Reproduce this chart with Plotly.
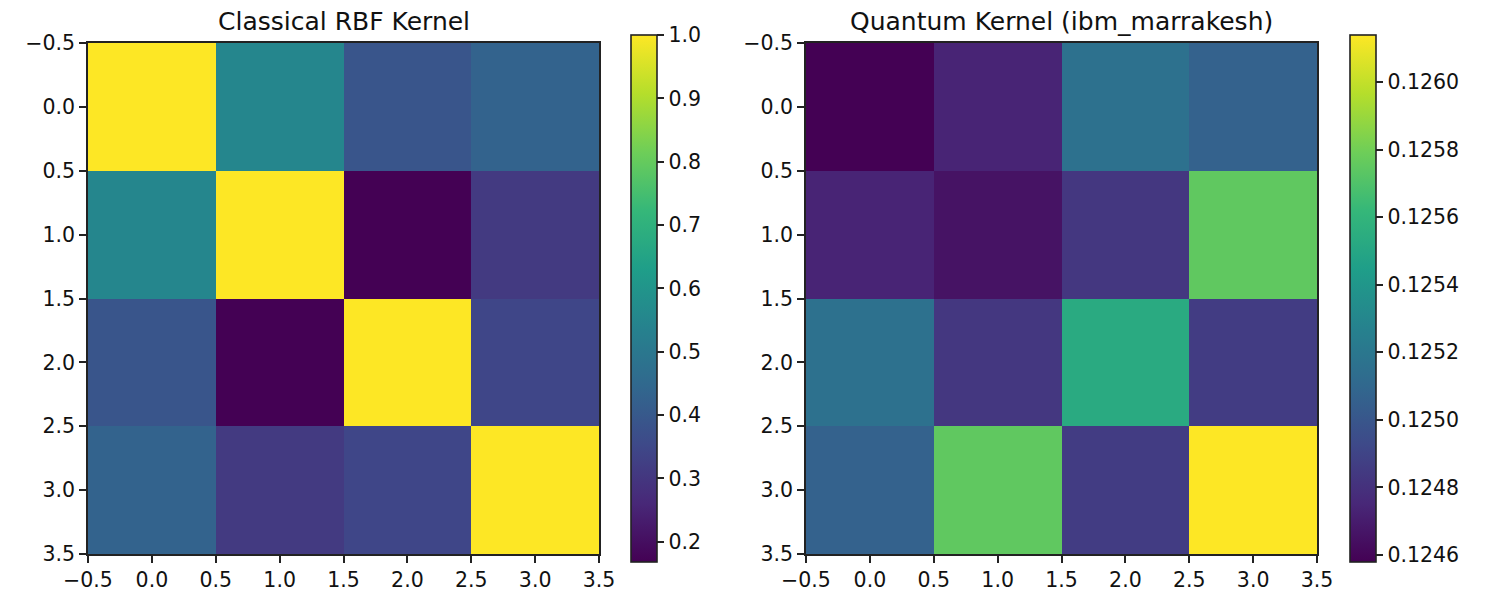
import plotly.graph_objects as go

idx = [0, 1, 2, 3]
classical_kernel = [
    [1.000, 0.550, 0.390, 0.430],
    [0.550, 1.000, 0.168, 0.310],
    [0.390, 0.168, 1.000, 0.345],
    [0.430, 0.310, 0.345, 1.000],
]
quantum_kernel = [
    [0.124579, 0.124736, 0.125156, 0.125063],
    [0.124736, 0.124657, 0.124829, 0.125749],
    [0.125156, 0.124829, 0.125530, 0.124860],
    [0.125063, 0.125749, 0.124860, 0.126139],
]
titles = ["Classical RBF Kernel", "Quantum Kernel (ibm_marrakesh)"]
axis_ticks = [-0.5, 0.0, 0.5, 1.0, 1.5, 2.0, 2.5, 3.0, 3.5]
axis_ticktext = [("\u2212" if v < 0 else "") + f"{abs(v):.1f}" for v in axis_ticks]
cb1_ticks = [0.2, 0.3, 0.4, 0.5, 0.6, 0.7, 0.8, 0.9, 1.0]
cb2_ticks = [0.1246, 0.1248, 0.1250, 0.1252, 0.1254, 0.1256, 0.1258, 0.1260]

W, H = 1500, 600
FONT = "DejaVu Sans"
TICKFONT = dict(family=FONT, size=20.5, color="#111")
LINE = "#222"

fig = go.Figure()

panels = [
    dict(z=classical_kernel, x0=88, x1=599, cbx=631, cbticks=cb1_ticks, fmt=".1f"),
    dict(z=quantum_kernel, x0=806, x1=1317, cbx=1350, cbticks=cb2_ticks, fmt=".4f"),
]
ytop, ybot = 43, 554
cbtop, cbbot = 35, 562

for i, p in enumerate(panels):
    n = "" if i == 0 else str(i + 1)
    fig.add_trace(go.Heatmap(
        z=p["z"], x=idx, y=idx, colorscale="Viridis", zsmooth=False,
        xaxis="x" + n, yaxis="y" + n,
        colorbar=dict(
            x=p["cbx"] / W, xanchor="left", xpad=0, ypad=0,
            y=1 - (cbtop + cbbot) / 2 / H, yanchor="middle",
            len=cbbot - cbtop, lenmode="pixels", thickness=26, thicknessmode="pixels",
            outlinewidth=1.6, outlinecolor=LINE,
            ticks="outside", ticklen=7, tickwidth=1.6, tickcolor=LINE,
            tickvals=p["cbticks"], tickformat=p["fmt"],
            tickfont=TICKFONT,
        ),
    ))
    common = dict(showline=True, linecolor=LINE, linewidth=1.6, mirror=True,
                  ticks="outside", ticklen=7, tickwidth=1.6, tickcolor=LINE,
                  showgrid=False, zeroline=False, automargin=False,
                  tickvals=axis_ticks, ticktext=axis_ticktext,
                  tickfont=TICKFONT)
    fig.update_layout(**{
        "xaxis" + n: dict(domain=[p["x0"] / W, p["x1"] / W], range=[-0.5, 3.5],
                          anchor="y" + n, **common),
        "yaxis" + n: dict(domain=[1 - ybot / H, 1 - ytop / H], range=[3.5, -0.5],
                          anchor="x" + n, **common),
    })
    fig.add_annotation(text=titles[i], xref="paper", yref="paper",
                       x=(p["x0"] + p["x1"]) / 2 / W, y=1 - 22 / H,
                       xanchor="center", yanchor="middle", showarrow=False,
                       font=dict(family=FONT, size=25, color="#111"))

fig.update_layout(width=W, height=H, margin=dict(l=0, r=0, t=0, b=0),
                  paper_bgcolor="white", plot_bgcolor="white", showlegend=False)

fig.write_html("out.html")
